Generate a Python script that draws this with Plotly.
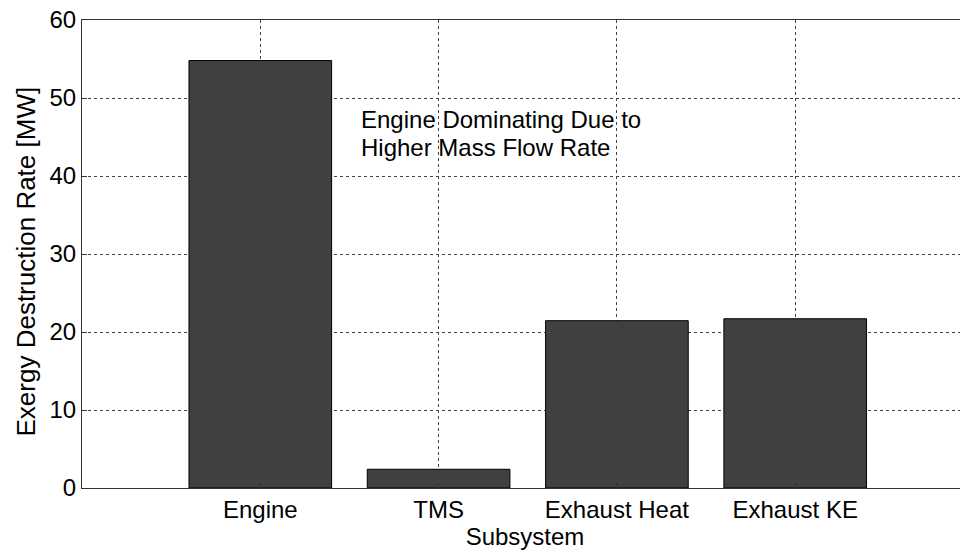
import plotly.graph_objects as go

categories = ["Engine", "TMS", "Exhaust Heat", "Exhaust KE"]
values = [54.8, 2.4, 21.45, 21.7]
positions = [1, 2, 3, 4]
y_ticks = [0, 10, 20, 30, 40, 50, 60]
note_lines = ["Engine Dominating Due to", "Higher Mass Flow Rate"]
note_y = [47.3, 43.7]
y_label = "Exergy Destruction Rate [MW]"
x_label = "Subsystem"

x_max = (968 - 82) / 178.3

fig = go.Figure()
fig.add_trace(go.Bar(
    x=positions, y=values, width=0.8,
    marker=dict(color="#404040", line=dict(color="#000000", width=1)),
))

font = "Liberation Sans, Arial, sans-serif"
annotations = [dict(
    x=1.553, y=yy, xref="x", yref="y", text=t,
    showarrow=False, xanchor="left", yanchor="middle", align="left",
    font=dict(size=24, family=font, color="black"),
) for t, yy in zip(note_lines, note_y)]
annotations.append(dict(
    x=0, y=0.484, xref="paper", yref="paper", text=y_label, textangle=-90,
    showarrow=False, xanchor="center", yanchor="middle", xshift=-56,
    font=dict(size=26, family=font, color="black"),
))

fig.update_layout(
    width=960, height=544,
    margin=dict(l=74, r=0, t=12, b=64, autoexpand=False),
    plot_bgcolor="white", paper_bgcolor="white",
    showlegend=False,
    font=dict(family=font, size=24, color="black"),
    xaxis=dict(
        range=[0, x_max], tickvals=positions, ticktext=categories,
        showgrid=True, gridcolor="#444444", griddash="dot", gridwidth=1,
        showline=True, linecolor="#333333", linewidth=1, mirror=True,
        ticks="inside", ticklen=5, tickcolor="#333333",
        title=dict(text=x_label, standoff=4, font=dict(size=24)),
        tickfont=dict(size=24), zeroline=False, automargin=False,
        ticklabeloverflow="allow",
    ),
    yaxis=dict(
        range=[0, 60], tickvals=y_ticks,
        showgrid=True, gridcolor="#444444", griddash="dot", gridwidth=1,
        showline=True, linecolor="#333333", linewidth=1, mirror=False,
        ticks="inside", ticklen=5, tickcolor="#333333",
        tickfont=dict(size=24), zeroline=False, automargin=False,
        ticklabeloverflow="allow",
    ),
    annotations=annotations,
)

fig.write_html("out.html")
